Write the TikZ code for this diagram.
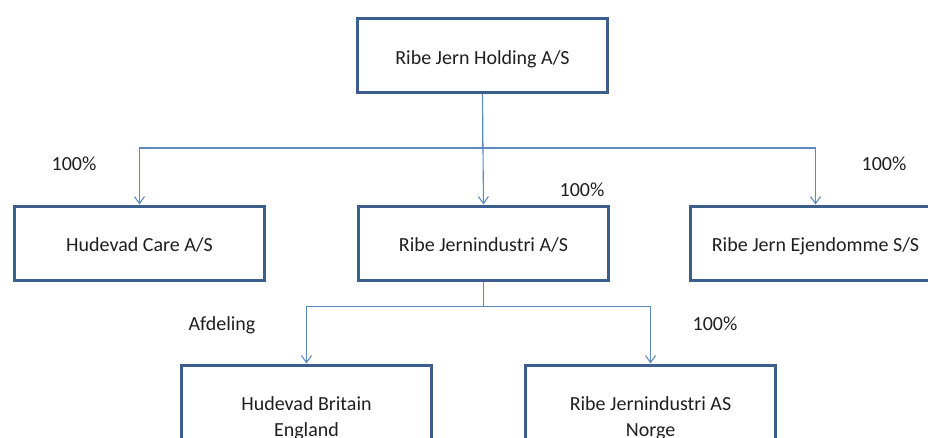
\documentclass[tikz,border=0pt]{standalone}
\usepackage{fontspec}
\setmainfont{Carlito}
\usetikzlibrary{arrows.meta}
\definecolor{boxblue}{HTML}{3B5E8C}
\definecolor{lineblue}{HTML}{5E88C2}
\begin{document}
\begin{tikzpicture}[x=1pt,y=-1pt,
  firm/.style={draw=boxblue,line width=3pt,minimum width=250pt,minimum height=74pt,
    align=center,font=\fontsize{20}{26}\selectfont,text=black!88},
  oneline/.style={text height=21pt,text depth=4pt},
  conn/.style={draw=lineblue,line width=1.1pt,-{Straight Barb[length=7pt,width=10pt]}},
  pct/.style={font=\fontsize{20}{24}\selectfont,text=black!88}]
\useasboundingbox (0,0) rectangle (928,437);
\node[firm,oneline] (holding) at (482.5,55.5) {Ribe Jern Holding A/S};
\node[firm,oneline] (care) at (139.5,243) {Hudevad Care A/S};
\node[firm,oneline] (jernind) at (483.5,243) {Ribe Jernindustri A/S};
\node[firm,oneline] (ejend) at (815.5,243) {Ribe Jern Ejendomme S/S};
\node[firm,minimum height=106pt] (britain) at (306.5,418) {Hudevad Britain\\England};
\node[firm,minimum height=106pt] (norge) at (650.5,418) {Ribe Jernindustri AS\\Norge};
% from holding
\draw[conn] (holding.south) -- ++(0,54) -| (care.north);
\draw[conn] (holding.south) -- ++(0,54) -| (ejend.north);
\draw[conn] (holding.south) -- (jernind.north);
% from jernindustri
\draw[conn] (jernind.south) -- ++(0,25) -| (britain.north);
\draw[conn] (jernind.south) -- ++(0,25) -| (norge.north);
\node[pct] (p1) at (74,164) {100\%};
\node[pct] (p2) at (582,190) {100\%};
\node[pct] (p3) at (884,164) {100\%};
\node[pct] (afd) at (222,325) {Afdeling};
\node[pct] (p4) at (715,324) {100\%};
\end{tikzpicture}
\end{document}
